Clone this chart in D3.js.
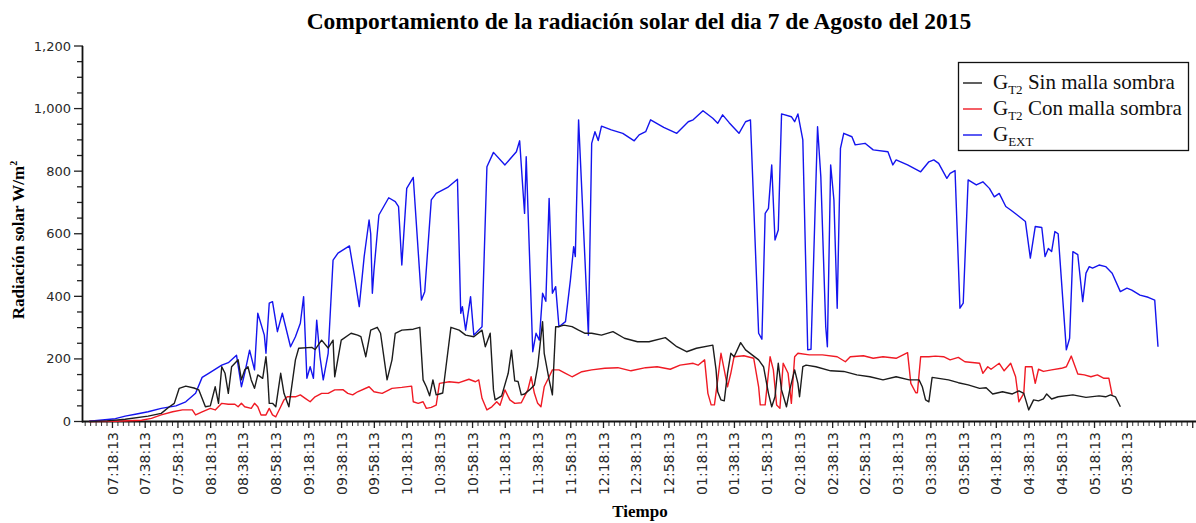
<!DOCTYPE html>
<html>
<head>
<meta charset="utf-8">
<script src="https://cdn.jsdelivr.net/npm/d3@7/dist/d3.min.js"></script>
<style>
  html, body { margin: 0; padding: 0; background: #fff; }
  svg { display: block; }
</style>
</head>
<body>
<svg id="chart" width="1196" height="523"></svg>
<script>
// Radiación solar medida el 7 de agosto de 2015 (W/m²), [hora, valor]
const sinMalla = [
  ["07:04",0],["07:15",2],["07:26",7],["07:40",17],["07:48",26],["07:53",47],["07:56",58],["07:59",106],
  ["08:03",113],["08:08",107],["08:11",101],["08:15",47],["08:18",50],["08:21",111],["08:23",58],["08:25",175],
  ["08:27",154],["08:29",90],["08:31",175],["08:33",186],["08:35",197],["08:37",133],["08:39",165],["08:41",175],
  ["08:43",133],["08:45",106],["08:47",149],["08:50",138],["08:52",207],["08:53",150],["08:54",58],["08:56",58],
  ["08:58",47],["09:01",154],["09:03",90],["09:06",47],["09:10",197],["09:12",234],["09:20",237],["09:22",230],
  ["09:26",260],["09:30",235],["09:33",260],["09:34",143],["09:38",260],["09:44",282],["09:48",276],["09:50",271],
  ["09:53",207],["09:56",292],["10:00",301],["10:02",282],["10:06",133],["10:09",197],["10:11",282],["10:15",292],
  ["10:22",295],["10:26",301],["10:28",133],["10:30",111],["10:32",82],["10:34",133],["10:36",85],["10:38",88],
  ["10:40",91],["10:42",175],["10:45",301],["10:50",292],["10:54",276],["10:59",271],["11:04",292],["11:06",239],
  ["11:09",282],["11:11",101],["11:12",69],["11:16",82],["11:20",154],["11:22",228],["11:24",130],["11:26",128],
  ["11:28",85],["11:30",88],["11:33",101],["11:36",117],["11:38",175],["11:41",319],["11:42",218],["11:45",133],
  ["11:47",85],["11:49",303],["11:51",303],["11:54",308],["11:59",303],["12:03",292],["12:07",282],["12:11",282],
  ["12:17",276],["12:24",287],["12:31",266],["12:39",255],["12:46",255],["12:56",268],["13:03",239],["13:09",223],
  ["13:15",234],["13:25",244],["13:27",165],["13:28",95],["13:30",69],["13:32",66],["13:34",154],["13:36",218],
  ["13:38",207],["13:42",252],["13:45",229],["13:49",213],["13:53",197],["13:56",175],["13:59",90],["14:01",47],
  ["14:03",79],["14:05",186],["14:07",101],["14:10",47],["14:12",101],["14:15",165],["14:17",122],["14:18",79],
  ["14:20",175],["14:22",180],["14:28",175],["14:37",162],["14:45",160],["14:53",149],["15:01",143],["15:09",133],
  ["15:17",143],["15:25",133],["15:31",133],["15:33",111],["15:35",69],["15:37",63],["15:39",141],["15:43",138],
  ["15:49",133],["15:55",124],["16:01",117],["16:08",106],["16:12",108],["16:16",88],["16:22",95],["16:28",88],
  ["16:32",98],["16:35",90],["16:38",37],["16:41",69],["16:44",66],["16:47",72],["16:49",88],["16:52",72],
  ["16:56",79],["17:05",85],["17:13",77],["17:21",82],["17:25",79],["17:28",85],["17:31",79],["17:34",47]
];

const conMalla = [
  ["07:04",0],["07:20",1],["07:36",4],["07:42",10],["07:48",21],["07:55",31],["08:01",37],["08:07",37],
  ["08:09",21],["08:13",31],["08:18",42],["08:21",37],["08:25",58],["08:29",55],["08:33",55],["08:35",47],
  ["08:37",58],["08:39",47],["08:43",42],["08:45",58],["08:47",47],["08:49",21],["08:52",21],["08:54",42],
  ["08:56",21],["08:58",15],["09:01",47],["09:03",69],["09:05",79],["09:10",79],["09:13",85],["09:16",74],
  ["09:19",63],["09:22",79],["09:26",90],["09:30",90],["09:34",101],["09:39",102],["09:42",90],["09:45",85],
  ["09:48",95],["09:55",111],["09:58",95],["10:03",90],["10:09",106],["10:15",109],["10:21",113],["10:22",63],
  ["10:25",58],["10:28",63],["10:30",42],["10:33",45],["10:36",52],["10:38",122],["10:44",127],["10:50",124],
  ["10:56",135],["11:00",127],["11:02",133],["11:04",74],["11:07",37],["11:10",47],["11:13",63],["11:15",52],
  ["11:18",101],["11:21",69],["11:24",58],["11:28",60],["11:32",101],["11:34",143],["11:36",90],["11:38",58],
  ["11:40",47],["11:42",111],["11:45",143],["11:47",165],["11:51",165],["11:55",154],["11:59",143],["12:05",159],
  ["12:11",165],["12:19",170],["12:27",172],["12:35",162],["12:44",172],["12:51",175],["12:59",167],["13:05",180],
  ["13:13",186],["13:16",180],["13:20",197],["13:22",90],["13:24",53],["13:26",53],["13:28",133],["13:30",218],
  ["13:32",165],["13:34",111],["13:36",154],["13:38",207],["13:44",210],["13:50",202],["13:53",111],["13:54",53],
  ["13:57",53],["14:00",207],["14:02",165],["14:04",53],["14:06",42],["14:08",186],["14:11",154],["14:13",58],
  ["14:15",207],["14:17",218],["14:24",213],["14:32",213],["14:41",207],["14:46",191],["14:49",207],["14:57",210],
  ["15:03",202],["15:09",207],["15:17",202],["15:24",220],["15:26",122],["15:29",92],["15:30",92],["15:32",207],
  ["15:37",207],["15:41",209],["15:46",207],["15:50",197],["15:55",205],["15:59",191],["16:08",186],["16:10",154],
  ["16:13",175],["16:15",167],["16:20",186],["16:23",162],["16:27",186],["16:30",143],["16:32",63],["16:35",90],
  ["16:36",175],["16:40",175],["16:42",122],["16:44",167],["16:47",160],["16:52",165],["16:58",170],["17:01",175],
  ["17:04",209],["17:08",152],["17:12",149],["17:16",143],["17:20",149],["17:24",138],["17:27",138],["17:29",85]
];

const exterior = [
  ["07:04",1],["07:12",5],["07:20",9],["07:26",17],["07:33",24],["07:40",31],["07:48",42],["07:57",50],
  ["08:03",63],["08:09",90],["08:13",141],["08:17",154],["08:25",180],["08:29",188],["08:34",212],["08:37",111],
  ["08:39",154],["08:42",228],["08:45",165],["08:47",346],["08:51",276],["08:52",218],["08:54",378],["08:56",383],
  ["08:59",287],["09:02",346],["09:07",239],["09:10",271],["09:13",314],["09:15",399],["09:17",138],["09:19",175],
  ["09:21",138],["09:23",324],["09:25",207],["09:27",133],["09:30",218],["09:33",516],["09:36",538],["09:43",561],
  ["09:46",468],["09:49",367],["09:52",527],["09:55",644],["09:56",600],["09:57",410],["09:58",484],["10:01",660],
  ["10:07",715],["10:11",703],["10:13",687],["10:15",500],["10:18",745],["10:22",780],["10:27",388],["10:29",415],
  ["10:33",708],["10:36",729],["10:43",748],["10:49",774],["10:51",346],["10:52",367],["10:54",292],["10:57",399],
  ["10:59",276],["11:04",303],["11:07",814],["11:11",860],["11:18",820],["11:25",862],["11:27",897],["11:29",740],
  ["11:30",665],["11:31",846],["11:35",223],["11:37",282],["11:39",260],["11:41",410],["11:43",384],["11:45",713],
  ["11:47",410],["11:49",431],["11:51",303],["11:55",319],["11:58",452],["12:00",559],["12:01",527],["12:03",964],
  ["12:09",276],["12:11",889],["12:13",926],["12:15",898],["12:17",944],["12:23",932],["12:30",921],["12:37",897],
  ["12:40",916],["12:44",926],["12:47",964],["12:55",940],["13:03",921],["13:10",958],["13:13",964],["13:19",993],
  ["13:25",969],["13:28",953],["13:31",980],["13:35",955],["13:41",921],["13:45",958],["13:48",964],["13:53",282],
  ["13:55",263],["13:57",665],["13:59",681],["14:01",820],["14:03",580],["14:05",612],["14:07",983],["14:13",974],
  ["14:15",958],["14:17",983],["14:20",900],["14:23",229],["14:25",231],["14:29",942],["14:31",782],["14:34",303],
  ["14:35",239],["14:37",820],["14:39",708],["14:41",362],["14:43",873],["14:45",921],["14:50",910],["14:52",884],
  ["14:58",889],["15:03",868],["15:12",862],["15:15",820],["15:17",836],["15:24",820],["15:32",798],["15:37",830],
  ["15:40",836],["15:43",825],["15:48",777],["15:50",793],["15:53",802],["15:56",362],["15:58",378],["16:01",772],
  ["16:06",756],["16:10",766],["16:14",745],["16:17",718],["16:20",729],["16:24",687],["16:27",676],["16:31",660],
  ["16:36",639],["16:39",522],["16:42",623],["16:46",620],["16:48",527],["16:50",553],["16:52",543],["16:54",607],
  ["16:56",600],["17:01",229],["17:03",266],["17:05",543],["17:08",533],["17:11",383],["17:13",474],["17:15",495],
  ["17:17",490],["17:21",500],["17:25",495],["17:29",474],["17:34",415],["17:38",426],["17:41",420],["17:46",404],
  ["17:51",397],["17:55",388],["17:57",239]
];

// Eje del tiempo: primera y última etiqueta, paso de 20 minutos
const tickFirst = "07:18:13";
const tickLast = "17:38:13";
const axisStart = "07:00:13";
const axisEnd = "18:20:13";
const yTicks = [0, 200, 400, 600, 800, 1000, 1200];

const seriesInfo = [
  { name: "Sin malla sombra", data: sinMalla, color: "#1c1c1c", sub: "T2" },
  { name: "Con malla sombra", data: conMalla, color: "#f01a24", sub: "T2" },
  { name: "", data: exterior, color: "#1414ee", sub: "EXT" }
];

const svg = d3.select("#chart");
const parseHM = d3.timeParse("%H:%M");
const parseHMS = d3.timeParse("%H:%M:%S");
const fmt = d3.timeFormat("%I:%M:%S");

const x = d3.scaleTime()
  .domain([parseHMS(axisStart), parseHMS(axisEnd)])
  .range([83, 1196]);
const y = d3.scaleLinear().domain([0, 1200]).range([421.5, 46]);

const serif = "'Liberation Serif', 'Times New Roman', serif";
const sans = "'DejaVu Sans', Verdana, sans-serif";

// Título
svg.append("text")
  .attr("x", 639).attr("y", 29)
  .attr("text-anchor", "middle")
  .attr("font-family", serif).attr("font-weight", "bold").attr("font-size", 23.5)
  .text("Comportamiento de la radiación solar del dia 7 de Agosto del 2015");

// Eje Y con subdivisiones cada 50
const yMinor = d3.range(0, 1201, 50);
svg.append("g").selectAll("line").data(yMinor).join("line")
  .attr("x1", d => d % 200 === 0 ? 74 : 77).attr("x2", 83)
  .attr("y1", d => y(d)).attr("y2", d => y(d))
  .attr("stroke", "#222").attr("stroke-width", 1.3);
svg.append("g").selectAll("text").data(yTicks).join("text")
  .attr("x", 71).attr("y", d => y(d))
  .attr("dy", "0.35em")
  .attr("text-anchor", "end")
  .attr("font-family", sans).attr("font-size", 13).attr("fill", "#2a2a2a")
  .text(d => d3.format(",")(d));
svg.append("line")
  .attr("x1", 82.5).attr("x2", 82.5).attr("y1", y(1200)).attr("y2", y(0) + 1)
  .attr("stroke", "#111").attr("stroke-width", 1.8);

// Eje X: marcas principales cada 20 min, secundarias cada 200 s
const t0 = parseHMS(tickFirst).getTime();
const tEnd = parseHMS(axisEnd).getTime();
const majors = d3.range(t0, tEnd, 20 * 60000).map(t => new Date(t));
const minorStart = t0 - 5 * 200000;
const minors = d3.range(minorStart, tEnd, 200000)
  .filter(t => (t - t0) % (20 * 60000) !== 0).map(t => new Date(t));
const labelLast = parseHMS(tickLast).getTime();

svg.append("g").selectAll("line").data(minors).join("line")
  .attr("x1", d => x(d)).attr("x2", d => x(d))
  .attr("y1", 422).attr("y2", 426)
  .attr("stroke", "#333").attr("stroke-width", 1);
svg.append("g").selectAll("line").data(majors).join("line")
  .attr("x1", d => x(d)).attr("x2", d => x(d))
  .attr("y1", 422).attr("y2", 428)
  .attr("stroke", "#222").attr("stroke-width", 1.3);
svg.append("g").selectAll("text")
  .data(majors.filter(d => d.getTime() <= labelLast)).join("text")
  .attr("transform", d => `translate(${x(d)},432) rotate(-90)`)
  .attr("dy", "0.36em")
  .attr("text-anchor", "end")
  .attr("font-family", sans).attr("font-size", 14).attr("fill", "#2a2a2a")
  .text(d => fmt(d));
svg.append("line")
  .attr("x1", 82).attr("x2", 1196).attr("y1", 421.5).attr("y2", 421.5)
  .attr("stroke", "#111").attr("stroke-width", 2);

// Títulos de los ejes
svg.append("text")
  .attr("transform", "translate(24,240) rotate(-90)")
  .attr("text-anchor", "middle")
  .attr("font-family", serif).attr("font-weight", "bold").attr("font-size", 17)
  .call(t => {
    t.append("tspan").text("Radiación solar W/m");
    t.append("tspan").attr("font-size", 10).attr("dy", -7).text("2");
  });
svg.append("text")
  .attr("x", 640).attr("y", 517)
  .attr("text-anchor", "middle")
  .attr("font-family", serif).attr("font-weight", "bold").attr("font-size", 17)
  .text("Tiempo");

// Series
const line = d3.line()
  .x(d => x(parseHM(d[0])))
  .y(d => y(d[1]));
const drawOrder = [seriesInfo[2], seriesInfo[1], seriesInfo[0]];
svg.append("g").selectAll("path").data(drawOrder).join("path")
  .attr("d", d => line(d.data))
  .attr("fill", "none")
  .attr("stroke", d => d.color)
  .attr("stroke-width", 1.4)
  .attr("stroke-linejoin", "round");

// Leyenda
const lg = svg.append("g");
lg.append("rect")
  .attr("x", 958.5).attr("y", 62.5).attr("width", 230).attr("height", 88)
  .attr("fill", "#fff").attr("stroke", "#111").attr("stroke-width", 1.3);
seriesInfo.forEach((s, i) => {
  const by = 89 + i * 26;
  lg.append("line")
    .attr("x1", 963).attr("x2", 982).attr("y1", by - 6).attr("y2", by - 6)
    .attr("stroke", s.color).attr("stroke-width", 1.4);
  const t = lg.append("text")
    .attr("x", 993).attr("y", by)
    .attr("font-family", serif).attr("font-size", 21).attr("fill", "#111");
  t.append("tspan").text("G");
  t.append("tspan").attr("font-size", 13).attr("dy", 5).text(s.sub);
  if (s.name) t.append("tspan").attr("dy", -5).text(" " + s.name);
});
</script>
</body>
</html>
